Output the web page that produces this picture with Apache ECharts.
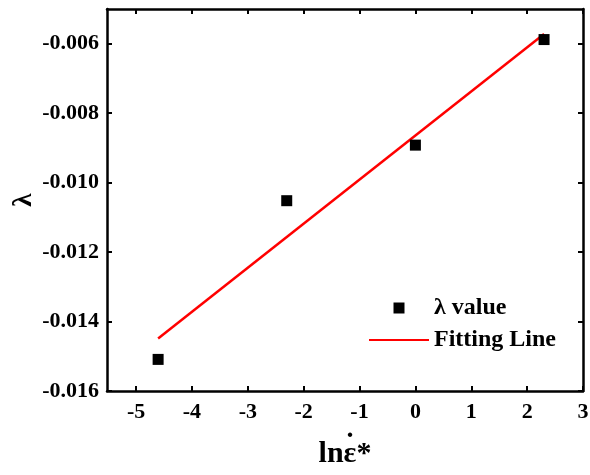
<!DOCTYPE html>
<html>
<head>
<meta charset="utf-8">
<script src="https://cdn.jsdelivr.net/npm/echarts@6/dist/echarts.min.js"></script>
<style>
  html, body { margin: 0; padding: 0; background: #fff; }
  #chart { width: 590px; height: 475px; }
</style>
</head>
<body>
<div id="chart"></div>
<script>
// Measured λ values against ln of the dimensionless strain rate
const lnRate = [-4.605, -2.303, 0, 2.303];
const lambdaValues = [-0.01509, -0.01052, -0.00892, -0.00588];

// End points of the linear fit
const fitX = [-4.605, 2.303];
const fitY = [-0.01449, -0.00572];

// Axis ticks
const xTicks = [-5, -4, -3, -2, -1, 0, 1, 2, 3];
const yTicks = [-0.016, -0.014, -0.012, -0.010, -0.008, -0.006];

const FONT = '"Liberation Serif", "Times New Roman", serif';
const axisLine = { show: true, onZero: false, lineStyle: { color: '#000', width: 2.5 } };
const tickStyle = { lineStyle: { color: '#000', width: 2 } };

const chart = echarts.init(document.getElementById('chart'), null, { renderer: 'canvas' });

chart.setOption({
  animation: false,
  backgroundColor: '#fff',
  grid: { left: 107, right: 7, top: 9, bottom: 84, outerBoundsMode: 'none', containLabel: false },
  legend: {
    orient: 'vertical',
    left: 368,
    top: 296,
    padding: 0,
    itemWidth: 60,
    itemHeight: 11,
    itemGap: 8,
    textStyle: { fontFamily: FONT, fontWeight: 'bold', fontSize: 24, color: '#000' },
    data: [
      { name: 'λ value', icon: 'path://M0,0L10,0L10,10L0,10Z' },
      { name: 'Fitting Line', itemStyle: { opacity: 0 } }
    ]
  },
  // dot over the epsilon of the x-axis title (strain-rate notation)
  graphic: [{
    type: 'text',
    left: 345,
    top: 430,
    style: { text: '˙', fontFamily: FONT, fontWeight: 'bold', fontSize: 30, fill: '#000' }
  }],
  xAxis: [
    {
      type: 'value', min: -5.52, max: 3,
      name: 'lnε*', nameLocation: 'middle', nameGap: 48, nameMoveOverlap: false,
      nameTextStyle: { fontFamily: FONT, fontWeight: 'bold', fontSize: 30, color: '#000' },
      axisLine: axisLine,
      axisTick: Object.assign({ show: true, inside: true, length: 5, customValues: xTicks }, tickStyle),
      axisLabel: {
        customValues: xTicks, margin: 10,
        fontFamily: FONT, fontWeight: 'bold', fontSize: 22, color: '#000',
        formatter: v => String(Math.round(v))
      },
      splitLine: { show: false }
    },
    {
      type: 'value', min: -5.52, max: 3, position: 'top',
      axisLine: axisLine,
      axisTick: Object.assign({ show: true, inside: true, length: 5, customValues: xTicks }, tickStyle),
      axisLabel: { show: false },
      splitLine: { show: false }
    }
  ],
  yAxis: [
    {
      type: 'value', min: -0.016, max: -0.005,
      name: 'λ', nameLocation: 'middle', nameGap: 69, nameMoveOverlap: false,
      nameTextStyle: { fontFamily: FONT, fontWeight: 'bold', fontSize: 27, color: '#000' },
      axisLine: axisLine,
      axisTick: Object.assign({ show: true, inside: true, length: 5, customValues: yTicks }, tickStyle),
      axisLabel: {
        customValues: yTicks, margin: 8,
        fontFamily: FONT, fontWeight: 'bold', fontSize: 22, color: '#000',
        formatter: v => v.toFixed(3)
      },
      splitLine: { show: false }
    },
    {
      type: 'value', min: -0.016, max: -0.005, position: 'right',
      axisLine: axisLine,
      axisTick: Object.assign({ show: true, inside: true, length: 5, customValues: yTicks }, tickStyle),
      axisLabel: { show: false },
      splitLine: { show: false }
    }
  ],
  series: [
    {
      name: 'Fitting Line',
      type: 'line',
      xAxisIndex: 0, yAxisIndex: 0,
      data: fitX.map((x, i) => [x, fitY[i]]),
      symbol: 'none',
      lineStyle: { color: '#ff0000', width: 2.5 },
      itemStyle: { color: '#ff0000' },
      z: 2
    },
    {
      name: 'λ value',
      type: 'scatter',
      xAxisIndex: 0, yAxisIndex: 0,
      data: lnRate.map((x, i) => [x, lambdaValues[i]]),
      symbol: 'rect',
      symbolSize: 11,
      itemStyle: { color: '#000', opacity: 1 },
      z: 3
    }
  ]
});
</script>
</body>
</html>
